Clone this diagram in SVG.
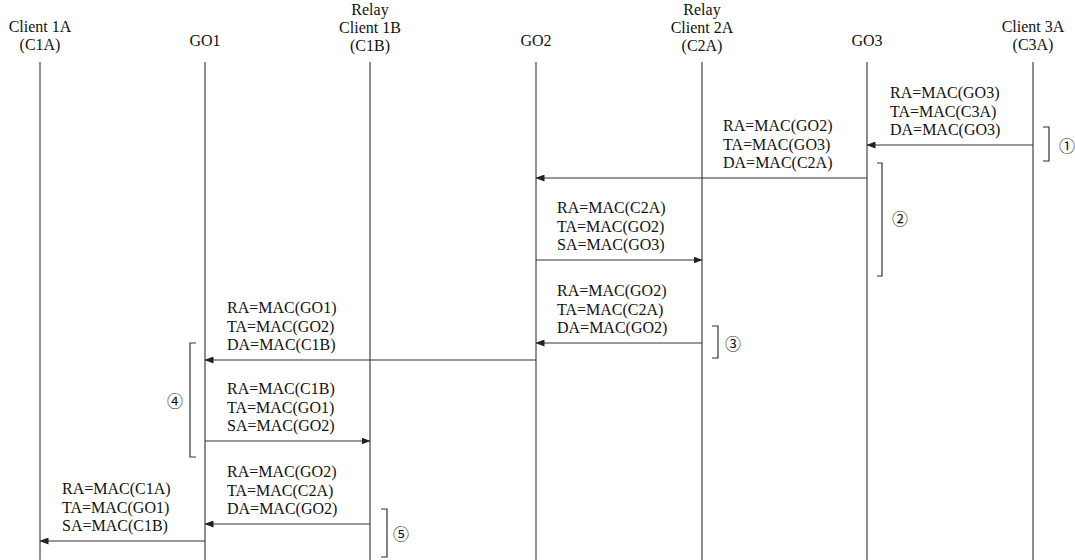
<svg xmlns="http://www.w3.org/2000/svg" width="1075" height="560" viewBox="0 0 1075 560">
<style>
text{font-family:"Liberation Serif","Times New Roman",serif;font-size:16px;fill:#111}
.h{text-anchor:middle}
.life{stroke:#444;stroke-width:1.2;fill:none}
.msg{stroke:#333;stroke-width:1.2;fill:none;marker-end:url(#ah)}
.br{stroke:#333;stroke-width:1.2;fill:none}
.num{font-family:"Noto Sans CJK SC","DejaVu Sans",sans-serif;font-size:16px;text-anchor:middle;dominant-baseline:central}
</style>
<defs>
<marker id="ah" markerWidth="9" markerHeight="7" refX="8.5" refY="3.5" orient="auto" markerUnits="userSpaceOnUse">
<path d="M0,0 L9,3.5 L0,7 z" fill="#222"/>
</marker>
</defs>
<rect width="1075" height="560" fill="#fff"/>
<g id="C1A"><text class="h" x="40" y="32">Client 1A</text><text class="h" x="40" y="50">(C1A)</text><line class="life" x1="40" y1="62" x2="40" y2="560"/></g>
<g id="GO1"><text class="h" x="205" y="46">GO1</text><line class="life" x1="205" y1="62" x2="205" y2="560"/></g>
<g id="C1B"><text class="h" x="370" y="15">Relay</text><text class="h" x="370" y="33">Client 1B</text><text class="h" x="370" y="51">(C1B)</text><line class="life" x1="370" y1="62" x2="370" y2="560"/></g>
<g id="GO2"><text class="h" x="536" y="46">GO2</text><line class="life" x1="536" y1="62" x2="536" y2="560"/></g>
<g id="C2A"><text class="h" x="702" y="15">Relay</text><text class="h" x="702" y="33">Client 2A</text><text class="h" x="702" y="51">(C2A)</text><line class="life" x1="702" y1="62" x2="702" y2="560"/></g>
<g id="GO3"><text class="h" x="867" y="46">GO3</text><line class="life" x1="867" y1="62" x2="867" y2="560"/></g>
<g id="C3A"><text class="h" x="1033" y="32">Client 3A</text><text class="h" x="1033" y="50">(C3A)</text><line class="life" x1="1033" y1="62" x2="1033" y2="560"/></g>
<g id="connectors">
<line class="msg" x1="1033" y1="145" x2="867" y2="145"/>
<line class="msg" x1="867" y1="178" x2="536" y2="178"/>
<line class="msg" x1="536" y1="260" x2="702" y2="260"/>
<line class="msg" x1="702" y1="343" x2="536" y2="343"/>
<line class="msg" x1="536" y1="360" x2="205" y2="360"/>
<line class="msg" x1="205" y1="441" x2="370" y2="441"/>
<line class="msg" x1="370" y1="524" x2="205" y2="524"/>
<line class="msg" x1="205" y1="541" x2="40" y2="541"/>
</g>
<g id="labels">
<text x="890" y="98">RA=MAC(GO3)</text><text x="890" y="117">TA=MAC(C3A)</text><text x="890" y="135">DA=MAC(GO3)</text>
<text x="723" y="131">RA=MAC(GO2)</text><text x="723" y="150">TA=MAC(GO3)</text><text x="723" y="168">DA=MAC(C2A)</text>
<text x="557" y="213">RA=MAC(C2A)</text><text x="557" y="232">TA=MAC(GO2)</text><text x="557" y="250">SA=MAC(GO3)</text>
<text x="557" y="296">RA=MAC(GO2)</text><text x="557" y="315">TA=MAC(C2A)</text><text x="557" y="333">DA=MAC(GO2)</text>
<text x="227" y="313">RA=MAC(GO1)</text><text x="227" y="332">TA=MAC(GO2)</text><text x="227" y="350">DA=MAC(C1B)</text>
<text x="227" y="394">RA=MAC(C1B)</text><text x="227" y="413">TA=MAC(GO1)</text><text x="227" y="431">SA=MAC(GO2)</text>
<text x="227" y="477">RA=MAC(GO2)</text><text x="227" y="496">TA=MAC(C2A)</text><text x="227" y="514">DA=MAC(GO2)</text>
<text x="62" y="494">RA=MAC(C1A)</text><text x="62" y="513">TA=MAC(GO1)</text><text x="62" y="531">SA=MAC(C1B)</text>
</g>
<g id="phases">
<path class="br" d="M1043,127 H1049 V161 H1043"/><text class="num" x="1067" y="145">①</text>
<path class="br" d="M877,163 H882 V276 H877"/><text class="num" x="900" y="218">②</text>
<path class="br" d="M712,326 H718 V358 H712"/><text class="num" x="733" y="343">③</text>
<path class="br" d="M196,343 H190 V457 H196"/><text class="num" x="175" y="400">④</text>
<path class="br" d="M381,509 H387 V557 H381"/><text class="num" x="401" y="533">⑤</text>
</g>
</svg>
